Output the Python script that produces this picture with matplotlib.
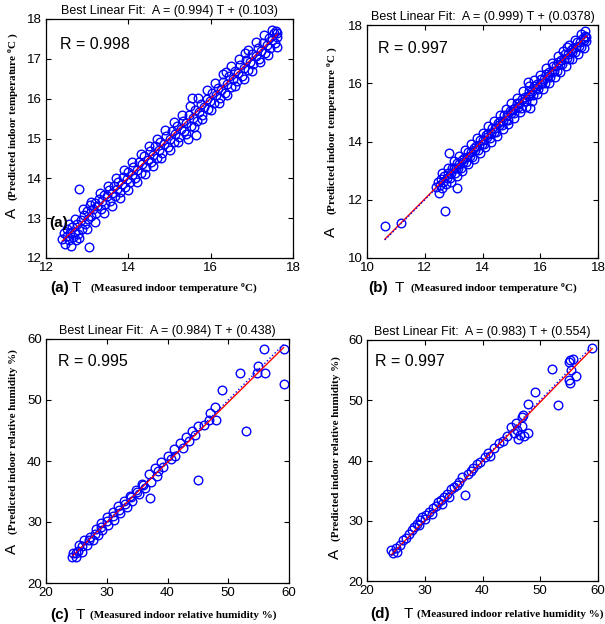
import numpy as np
import matplotlib.pyplot as plt

plt.rcParams['font.family'] = 'Liberation Sans'
plt.rcParams['mathtext.fontset'] = 'custom'
plt.rcParams['mathtext.rm'] = 'Liberation Serif:bold'
plt.rcParams['mathtext.it'] = 'Liberation Serif:bold'

# (T, A) pairs
temp_a = [
    (12.40, 12.48), (12.43, 12.62), (12.46, 12.36), (12.50, 12.55), (12.52, 12.72), (12.55, 12.44),
    (12.58, 12.63), (12.60, 12.30), (12.63, 12.78), (12.66, 12.52), (12.70, 12.66), (12.72, 12.45),
    (12.75, 12.85), (12.78, 12.60), (12.80, 13.72), (12.84, 12.96), (12.88, 12.74), (12.92, 13.08),
    (12.95, 12.86), (13.00, 13.18), (13.03, 12.98), (13.05, 12.27), (13.07, 13.32), (13.10, 13.05),
    (13.14, 13.22), (13.18, 13.38), (13.21, 13.12), (13.25, 13.30), (13.29, 13.48), (13.33, 13.24),
    (13.37, 13.42), (13.40, 13.58), (13.44, 13.36), (13.48, 13.55), (13.52, 13.70), (13.55, 13.44),
    (13.60, 13.62), (13.64, 13.80), (13.68, 13.55), (13.72, 13.74), (13.76, 13.92), (13.80, 13.66),
    (13.84, 13.86), (13.88, 14.04), (13.92, 13.78), (13.96, 13.98), (14.00, 14.15), (14.04, 13.90),
    (14.08, 14.08), (14.12, 14.28), (14.16, 14.02), (14.20, 14.22), (14.25, 14.40), (14.30, 14.14),
    (14.34, 14.35), (14.38, 14.55), (14.42, 14.28), (14.47, 14.46), (14.52, 14.68), (14.56, 14.40),
    (14.60, 14.58), (14.65, 14.80), (14.70, 14.52), (14.74, 14.72), (14.78, 14.92), (14.82, 14.64),
    (14.87, 14.85), (14.92, 15.06), (14.96, 14.78), (15.00, 14.98), (15.05, 15.18), (15.10, 14.92),
    (15.14, 15.12), (15.18, 15.32), (15.22, 15.04), (15.27, 15.24), (15.32, 15.45), (15.36, 15.18),
    (15.40, 15.38), (15.45, 15.00), (15.48, 15.60), (15.52, 15.32), (15.54, 16.02), (15.57, 15.52),
    (15.62, 15.72), (15.65, 15.10), (15.67, 15.45), (15.72, 15.66), (15.76, 15.86), (15.80, 15.60),
    (15.85, 15.80), (15.90, 16.00), (15.94, 15.74), (15.98, 15.94), (16.03, 16.14), (16.08, 15.88),
    (16.12, 16.08), (16.17, 16.28), (16.22, 16.02), (16.26, 16.22), (16.31, 16.42), (16.35, 16.15),
    (16.37, 16.67), (16.40, 16.36), (16.45, 16.56), (16.50, 16.30), (16.54, 16.50), (16.58, 16.70),
    (16.63, 16.44), (16.67, 16.64), (16.72, 16.84), (16.76, 16.58), (16.81, 16.78), (16.83, 17.15),
    (16.86, 16.98), (16.90, 16.72), (16.95, 16.92), (17.00, 17.12), (17.04, 16.86), (17.09, 17.06),
    (17.14, 17.26), (17.18, 17.00), (17.23, 17.20), (17.28, 17.40), (17.32, 17.14), (17.36, 17.34),
    (17.41, 17.52), (17.45, 17.28), (17.50, 17.48), (17.54, 17.64), (17.57, 17.40), (17.60, 17.56),
    (17.62, 17.66), (17.58, 17.70),
    # outer edges of the band
    (12.55, 12.85), (12.70, 12.98), (12.90, 13.22), (13.10, 13.40), (13.30, 13.62), (13.50, 13.80),
    (13.70, 14.02), (13.90, 14.22), (14.10, 14.40), (14.30, 14.62), (14.50, 14.82), (14.70, 15.00),
    (14.90, 15.22), (15.10, 15.42), (15.30, 15.60), (15.50, 15.82), (15.70, 16.02), (15.90, 16.22),
    (16.10, 16.40), (16.30, 16.62), (16.50, 16.82), (16.70, 17.00), (16.90, 17.22), (17.10, 17.42),
    (17.30, 17.60), (17.50, 17.72),
    (12.80, 12.50), (13.00, 12.72), (13.20, 12.90), (13.40, 13.12), (13.60, 13.30), (13.80, 13.50),
    (14.00, 13.70), (14.20, 13.92), (14.40, 14.10), (14.60, 14.30), (14.80, 14.52), (15.00, 14.70),
    (15.20, 14.90), (15.40, 15.12), (15.60, 15.30), (15.80, 15.50), (16.00, 15.72), (16.20, 15.90),
    (16.40, 16.10), (16.60, 16.32), (16.80, 16.50), (17.00, 16.70), (17.20, 16.92), (17.40, 17.10),
    (17.60, 17.30),
]

temp_b = [
    (10.62, 11.11), (11.18, 11.19), (12.40, 12.45), (12.45, 12.60), (12.50, 12.24), (12.52, 12.50),
    (12.56, 12.72), (12.60, 12.40), (12.64, 12.62), (12.68, 12.80), (12.70, 11.63), (12.72, 12.55),
    (12.76, 12.74), (12.80, 12.92), (12.85, 13.60), (12.88, 12.74), (12.92, 12.92), (12.96, 13.08),
    (13.10, 12.42), (13.00, 13.08), (13.04, 12.92), (13.08, 13.08), (13.12, 13.26), (13.16, 13.10),
    (13.20, 13.24), (13.24, 13.08), (13.28, 13.38), (13.33, 13.31), (13.37, 13.45), (13.42, 13.30),
    (13.46, 13.46), (13.50, 13.64), (13.55, 13.49), (13.60, 13.64), (13.64, 13.48), (13.69, 13.79),
    (13.74, 13.72), (13.78, 13.86), (13.83, 13.71), (13.88, 13.88), (13.92, 14.06), (13.97, 13.91),
    (14.02, 14.06), (14.06, 13.90), (14.11, 14.21), (14.16, 14.14), (14.20, 14.28), (14.25, 14.13),
    (14.30, 14.30), (14.34, 14.48), (14.39, 14.33), (14.44, 14.48), (14.48, 14.32), (14.53, 14.63),
    (14.58, 14.56), (14.62, 14.70), (14.67, 14.55), (14.72, 14.72), (14.76, 14.90), (14.81, 14.75),
    (14.86, 14.90), (14.90, 14.74), (14.95, 15.05), (15.00, 14.98), (15.04, 15.12), (15.09, 14.97),
    (15.14, 15.14), (15.18, 15.32), (15.23, 15.17), (15.28, 15.32), (15.32, 15.16), (15.37, 15.47),
    (15.42, 15.40), (15.46, 15.54), (15.51, 15.39), (15.56, 15.56), (15.57, 16.05), (15.60, 15.74),
    (15.64, 15.15), (15.65, 15.59), (15.70, 15.74), (15.74, 15.58), (15.79, 15.89), (15.84, 15.82),
    (15.88, 15.96), (15.93, 15.81), (15.98, 15.98), (16.02, 16.16), (16.07, 16.01), (16.12, 16.16),
    (16.16, 16.00), (16.21, 16.31), (16.26, 16.24), (16.30, 16.38), (16.35, 16.23), (16.40, 16.40),
    (16.44, 16.58), (16.49, 16.43), (16.54, 16.58), (16.58, 16.42), (16.63, 16.73), (16.68, 16.66),
    (16.72, 16.80), (16.77, 16.65), (16.82, 16.82), (16.86, 17.00), (16.91, 16.85), (16.92, 17.25),
    (16.96, 17.00), (17.00, 16.84), (17.05, 17.15), (17.10, 17.08), (17.14, 17.22), (17.19, 17.07),
    (17.24, 17.24), (17.28, 17.42), (17.33, 17.27), (17.38, 17.42), (17.42, 17.26), (17.47, 17.57),
    (17.52, 17.50), (17.55, 17.63), (17.58, 17.46), (17.60, 17.60),
    # outer edges of the band
    (12.60, 12.92), (12.80, 13.10), (13.00, 13.32), (13.20, 13.50), (13.40, 13.72), (13.60, 13.90),
    (13.80, 14.12), (14.00, 14.30), (14.20, 14.52), (14.40, 14.70), (14.60, 14.92), (14.80, 15.10),
    (15.00, 15.32), (15.20, 15.50), (15.40, 15.72), (15.60, 15.90), (15.80, 16.12), (16.00, 16.30),
    (16.20, 16.52), (16.40, 16.70), (16.60, 16.92), (16.80, 17.10), (17.00, 17.32), (17.20, 17.50),
    (17.40, 17.70), (17.55, 17.78),
    (12.90, 12.60), (13.10, 12.80), (13.30, 13.00), (13.50, 13.22), (13.70, 13.40), (13.90, 13.60),
    (14.10, 13.82), (14.30, 14.00), (14.50, 14.20), (14.70, 14.42), (14.90, 14.60), (15.10, 14.80),
    (15.30, 15.02), (15.50, 15.20), (15.70, 15.40), (15.90, 15.62), (16.10, 15.80), (16.30, 16.00),
    (16.50, 16.22), (16.70, 16.40), (16.90, 16.60), (17.10, 16.82), (17.30, 17.00), (17.50, 17.20),
]

hum_c = [
    (24.3, 24.3), (24.4, 25.0), (25.0, 24.2), (25.2, 25.3), (25.5, 26.2), (26.0, 25.1), (26.2, 27.0),
    (26.8, 26.2), (27.2, 27.6), (27.8, 27.0), (28.2, 28.8), (28.5, 27.8), (29.0, 29.8), (29.3, 28.7),
    (30.0, 30.8), (30.2, 29.5), (31.0, 31.7), (31.2, 30.4), (31.8, 32.6), (32.2, 31.5), (32.8, 33.4),
    (33.3, 32.5), (33.8, 34.3), (34.2, 33.4), (34.8, 35.3), (35.3, 34.6), (35.8, 36.3), (36.3, 35.5),
    (37.0, 37.8), (37.3, 36.5), (38.0, 38.8), (38.3, 37.6), (39.0, 39.9), (39.3, 39.0), (40.0, 40.9),
    (41.0, 41.9), (41.2, 40.8), (42.0, 42.9), (43.0, 43.9), (44.0, 44.9), (45.0, 45.8), (46.0, 45.9),
    (46.8, 46.8), (47.0, 47.9), (48.0, 46.8), (47.9, 48.8), (48.9, 51.6), (52.0, 54.5), (54.8, 54.5),
    (54.9, 55.5), (56.1, 54.4), (55.9, 58.4), (59.1, 58.4), (59.1, 52.7), (53.0, 45.0), (45.1, 36.9),
    (37.1, 34.0),
    (25.0, 24.9), (26.0, 26.0), (27.0, 27.0), (28.0, 28.1), (29.0, 29.1), (30.0, 30.1), (31.0, 31.0),
    (32.0, 32.0), (33.0, 33.0), (34.0, 34.1), (35.0, 35.0), (36.0, 36.0), (38.5, 38.4), (40.5, 40.4),
    (42.5, 42.2), (43.5, 43.2), (44.5, 44.2),
]

hum_d = [
    (24.2, 25.2), (24.5, 24.6), (25.0, 25.5), (25.2, 24.8), (25.8, 26.0), (26.2, 26.8), (26.8, 27.2),
    (27.2, 27.8), (27.8, 28.4), (28.2, 28.9), (28.6, 29.5), (29.0, 29.3), (29.2, 30.2), (29.6, 30.6),
    (30.0, 30.3), (30.3, 31.0), (30.8, 31.5), (31.2, 31.2), (31.5, 32.1), (32.0, 32.5), (32.3, 33.1),
    (32.8, 33.4), (33.0, 32.8), (33.3, 33.9), (33.8, 34.4), (34.2, 34.0), (34.5, 35.2), (35.0, 35.6),
    (35.6, 36.0), (36.0, 36.5), (36.5, 37.2), (37.0, 34.3), (37.5, 37.8), (38.0, 38.3), (38.4, 38.8),
    (39.0, 39.4), (39.5, 39.8), (40.5, 40.6), (41.0, 41.2), (41.3, 40.8), (42.0, 42.0), (42.8, 42.9),
    (43.5, 43.2), (44.2, 44.0), (45.0, 45.5), (45.5, 44.5), (46.0, 45.0), (46.5, 44.2), (46.8, 45.8),
    (47.2, 44.0), (47.9, 44.6), (46.2, 43.6), (45.8, 46.2), (46.8, 47.2), (47.0, 47.6), (47.9, 49.4),
    (49.1, 51.3), (53.0, 49.2), (52.1, 55.2), (55.0, 53.3), (55.2, 52.8), (56.2, 54.0), (55.3, 55.1),
    (55.2, 56.6), (55.0, 56.4), (55.6, 56.8), (59.0, 58.6),
]

slopes = [0.994, 0.999, 0.984, 0.983]
offsets = ['0.103', '0.0378', '0.438', '0.554']
r_values = ['0.998', '0.997', '0.995', '0.997']
letters = ['(a)', '(b)', '(c)', '(d)']
x_names = ['(Measured indoor temperature $^{\\rm o}$C)', '(Measured indoor temperature $^{\\rm o}$C)',
           '(Measured indoor relative humidity %)', '(Measured indoor relative humidity %)']
y_names = ['(Predicted indoor temperature $^{\\rm o}$C )', '(Predicted indoor temperature $^{\\rm o}$C )',
           '(Predicted indoor relative humidity %)', '(Predicted indoor relative humidity %)']
limits = [(12, 18), (10, 18), (20, 60), (20, 60)]
xticks = [[12, 14, 16, 18], [10, 12, 14, 16, 18], [20, 30, 40, 50, 60], [20, 30, 40, 50, 60]]
yticks = [[12, 13, 14, 15, 16, 17, 18], [10, 12, 14, 16, 18], [20, 30, 40, 50, 60], [20, 30, 40, 50, 60]]
datasets = [temp_a, temp_b, hum_c, hum_d]

W, H = 605, 624
def fx(x):
    return x / W
def fy(y):
    return 1 - y / H

# axes boxes in pixels: left, top, right, bottom
boxes = [(46, 19, 293, 258), (367, 25, 598, 258), (46, 339, 289, 583), (367, 340, 598, 581)]
r_pos = [(0.057, 0.895), (0.048, 0.897), (0.05, 0.906), (0.035, 0.909)]
# x label pieces: letter x, T x, text x, y
xlab_pos = [(50, 72, 90, 288), (368, 395, 410, 288), (50, 76, 90, 615), (370, 404, 417, 614)]
# y label: x, A bottom, text bottom
ylab_pos = [(12, 218, 201), (331, 237, 215), (12, 554, 534), (335, 559, 541)]

fig = plt.figure(figsize=(6.05, 6.24), dpi=100)

for i in range(4):
    l, t, r, b = boxes[i]
    ax = fig.add_axes([fx(l), fy(b), (r - l) / W, (b - t) / H])
    pts = np.array(datasets[i])
    T, A = pts[:, 0], pts[:, 1]
    ax.plot(T, A, 'o', mfc='none', mec='#0000ff', mew=1.0, ms=6.2)
    tt = np.array([T.min(), T.max()])
    ax.plot(tt, slopes[i] * tt + float(offsets[i]), '-', color='#ff0000', lw=1.0)
    ax.plot(tt, tt, ':', color='#0000ff', lw=1.0)
    ax.set_xlim(limits[i])
    ax.set_ylim(limits[i])
    ax.set_xticks(xticks[i])
    ax.set_yticks(yticks[i])
    ax.tick_params(direction='in', top=True, right=True, length=3.5, width=0.8,
                   labelsize=9.5, pad=3)
    for s in ax.spines.values():
        s.set_linewidth(0.9)
    ax.set_title('Best Linear Fit:  A = (%.3f) T + (%s)' % (slopes[i], offsets[i]),
                 fontsize=9, pad=3.5)
    ax.text(r_pos[i][0], r_pos[i][1], 'R = ' + r_values[i], transform=ax.transAxes,
            fontsize=11.5, va='center', ha='left')
    if i == 0:
        ax.text(12.08, 12.88, '(a)', fontsize=11, fontweight='bold', va='center')

    lx, tx, sx, yy = xlab_pos[i]
    fig.text(fx(lx), fy(yy), letters[i], fontsize=11, fontweight='bold', va='center')
    fig.text(fx(tx), fy(yy), 'T', fontsize=11, va='center')
    fig.text(fx(sx), fy(yy), x_names[i], fontsize=8, family='Liberation Serif',
             fontweight='bold', va='center')

    ax_x, a_bot, s_bot = ylab_pos[i]
    fig.text(fx(ax_x), fy(a_bot), 'A', fontsize=11, rotation=90, ha='center', va='bottom')
    fig.text(fx(ax_x + 1), fy(s_bot), y_names[i], fontsize=8, family='Liberation Serif',
             fontweight='bold', rotation=90, ha='center', va='bottom')

fig.savefig('out.png', dpi=100)
